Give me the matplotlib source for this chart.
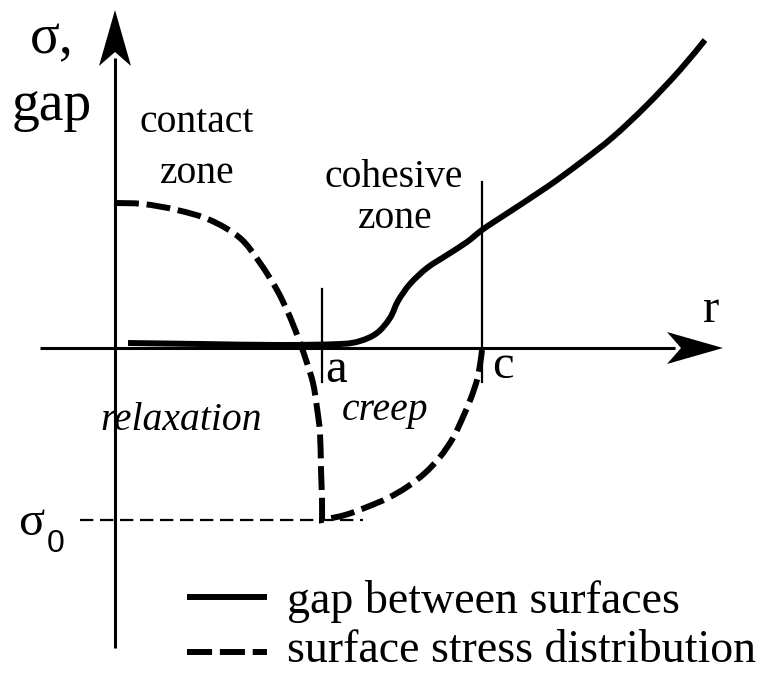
import matplotlib
matplotlib.use("Agg")
import matplotlib.pyplot as plt
from matplotlib.patches import Polygon, PathPatch
from matplotlib.path import Path
import numpy as np

# ---- data (schematic, origin at axes crossing; units ~ pixels) ----
gap_r = [13, 85, 165, 225, 245, 262, 275, 283, 295, 312, 332, 352, 367, 385, 432, 465, 498, 532, 565, 590]
gap_v = [5, 4, 3, 4, 7, 15, 30, 47, 64, 80, 93, 106, 118, 130, 161, 185, 211, 243, 278, 308]

relax_r = [0, 28, 62, 95, 125, 145, 162, 175, 185, 191, 198, 202, 205, 206, 207, 207]
relax_v = [145, 144, 138, 128, 110, 85, 58, 31, 5, -12, -35, -60, -85, -122, -152, -172]

creep_r = [207, 230, 252, 273, 292, 310, 325, 338, 348, 356, 362, 365, 367]
creep_v = [-172, -167, -159, -150, -139, -125, -109, -90, -69, -50, -32, -17, -2]

a_pos, c_pos = 207, 367
sigma0 = -172

plt.rcParams['font.family'] = ['Liberation Serif', 'DejaVu Serif']

fig = plt.figure(figsize=(7.7, 6.73), dpi=100)
ax = fig.add_axes([0, 0, 1, 1])
ax.set_xlim(-115, 655)
ax.set_ylim(-325, 348)
ax.axis('off')

K = 'black'


def smooth_segments(xs, ys):
    """Catmull-Rom through the given points, as cubic Bezier pieces."""
    P = np.column_stack([xs, ys]).astype(float)
    n = len(P)
    verts, codes = [], []
    for i in range(n - 1):
        p0 = P[max(i - 1, 0)]
        p1 = P[i]
        p2 = P[i + 1]
        p3 = P[min(i + 2, n - 1)]
        c1 = p1 + (p2 - p0) / 6.0
        c2 = p2 - (p3 - p1) / 6.0
        verts += [tuple(c1), tuple(c2), tuple(p2)]
        codes += [Path.CURVE4] * 3
    return [tuple(P[0])], verts, codes


def smooth_path(*pieces):
    verts, codes = [], []
    for k, (xs, ys) in enumerate(pieces):
        start, v, c = smooth_segments(xs, ys)
        if k == 0:
            verts += start
            codes += [Path.MOVETO]
        verts += v
        codes += c
    return Path(verts, codes)


# axes
ax.plot([-75, 560], [0, 0], color=K, lw=2.2, solid_capstyle='butt')
ax.plot([0, 0], [-300, 290], color=K, lw=2.2, solid_capstyle='butt')


def arrow_head(tip, direction, length=56, half_w=16, notch=14):
    tx, ty = tip
    dx, dy = direction
    px, py = -dy, dx
    base_x, base_y = tx - dx * length, ty - dy * length
    nx, ny = tx - dx * (length - notch), ty - dy * (length - notch)
    pts = [(tx, ty),
           (base_x + px * half_w, base_y + py * half_w),
           (nx, ny),
           (base_x - px * half_w, base_y - py * half_w)]
    ax.add_patch(Polygon(pts, closed=True, color=K, lw=0))


arrow_head((608, 0), (1, 0))
arrow_head((0, 338), (0, 1))

# tick lines at a and c
ax.plot([a_pos, a_pos], [-34, 59], color=K, lw=1.6)
ax.plot([c_pos, c_pos], [-34, 166], color=K, lw=1.6)

# sigma0 thin dashed line
ax.plot([-35, 248], [sigma0, sigma0], color=K, lw=1.6, dashes=(6, 3), dash_capstyle='butt')

# curves
gap_patch = PathPatch(smooth_path((gap_r, gap_v)), fill=False, ec=K, lw=4.3,
                      capstyle='butt', joinstyle='round')
ax.add_patch(gap_patch)
stress_patch = PathPatch(smooth_path((relax_r, relax_v), (creep_r, creep_v)), fill=False,
                         ec=K, lw=4.3, ls=(0, (4.0, 1.3)), capstyle='butt', joinstyle='miter')
ax.add_patch(stress_patch)


# texts
SERIF = 'Liberation Serif'


def T(x, y, s, size, **kw):
    ax.text(x, y, s, fontsize=size, va='baseline', family=SERIF, **kw)


T(-85, 295, 'σ,', 40, ha='left')
T(-103, 228, 'gap', 40, ha='left')
T(82, 216, 'contact', 28.5, ha='center')
T(82, 165, 'zone', 28.5, ha='center')
T(279, 161, 'cohesive', 28.5, ha='center')
T(280, 120, 'zone', 28.5, ha='center')
T(-15, -82, 'relaxation', 28.5, ha='left', style='italic')
T(227, -72, 'creep', 28.5, ha='left', style='italic')
T(210, -34, 'a', 35, ha='left')
T(377, -30, 'c', 35, ha='left')
T(588, 26, 'r', 35, ha='left')
T(-97, -187, 'σ', 35, ha='left')
ax.text(-68, -204, '0', fontsize=23, va='baseline', ha='left',
        family=['Liberation Sans', 'DejaVu Sans'])

# legend
ax.plot([72, 152], [-249, -249], color=K, lw=4.3, solid_capstyle='butt')
ax.plot([72, 152], [-304, -304], color=K, lw=4.3, dashes=(4.2, 1.3), dash_capstyle='butt')
T(172, -265, 'gap between surfaces', 33, ha='left')
T(172, -314, 'surface stress distribution', 33, ha='left')

fig.savefig('out.png', dpi=100)
